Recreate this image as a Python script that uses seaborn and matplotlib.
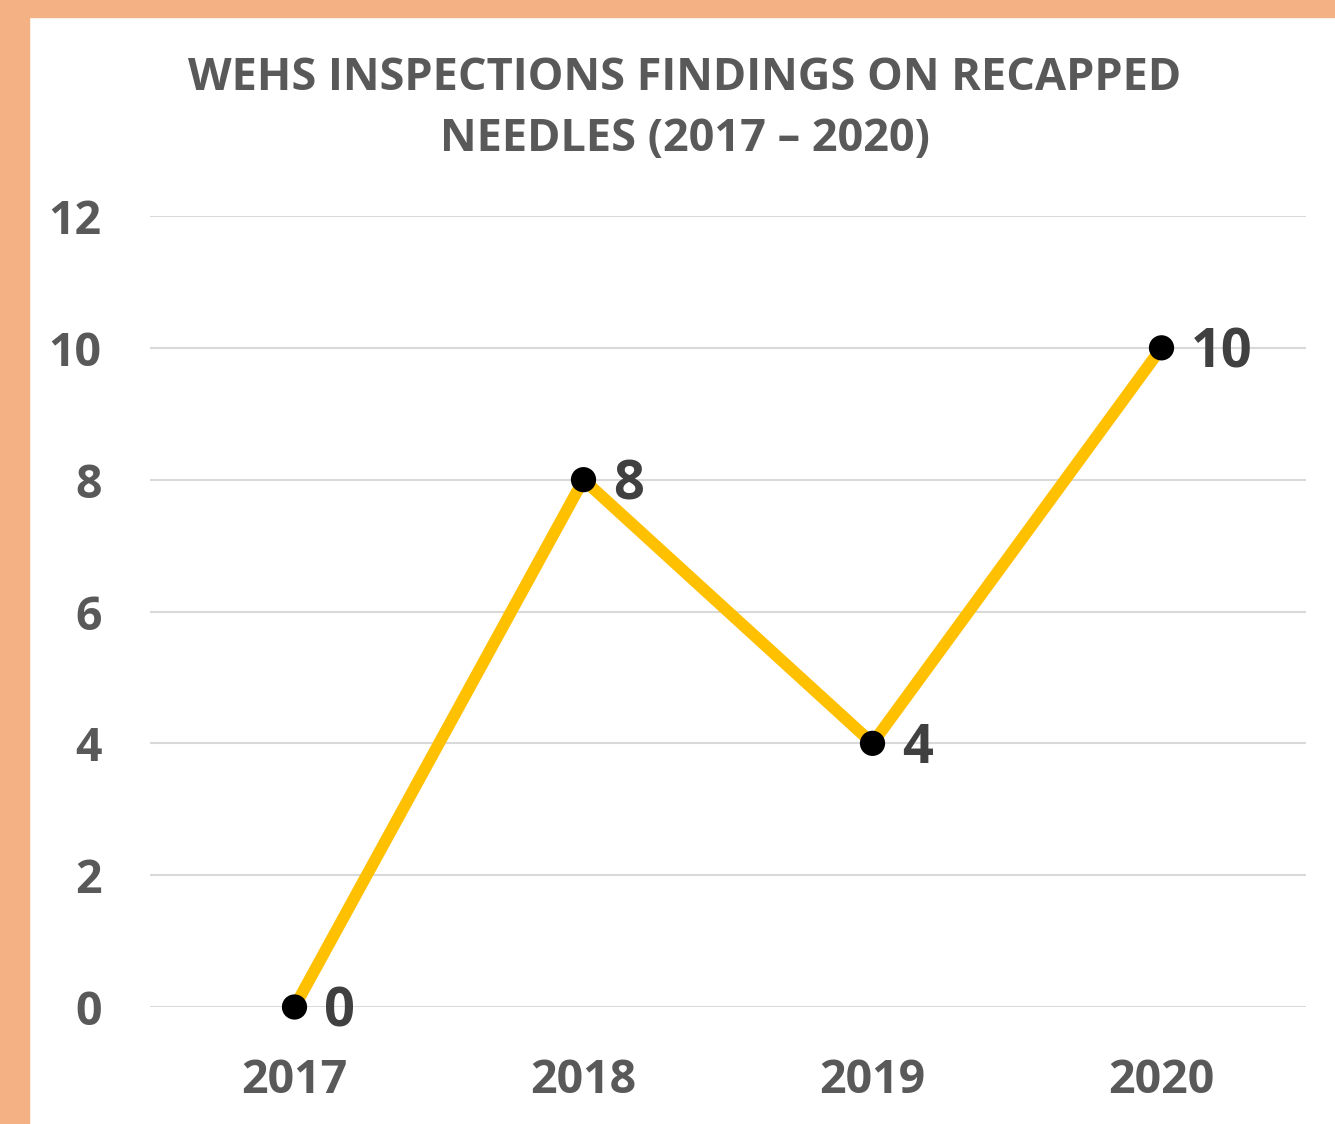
import matplotlib
matplotlib.use('Agg')
import matplotlib.pyplot as plt
import seaborn as sns
import pandas as pd
from matplotlib.patches import Rectangle

years = ['2017', '2018', '2019', '2020']
findings = [0, 8, 4, 10]
y_ticks = [0, 2, 4, 6, 8, 10, 12]
title = 'WEHS INSPECTIONS FINDINGS ON RECAPPED\nNEEDLES (2017 \u2013 2020)'

text_color = '#595959'
line_color = '#FFC000'
grid_color = '#D9D9D9'
border_color = '#F4B183'

sns.set_theme(style='white')
plt.rcParams['font.family'] = ['Open Sans', 'DejaVu Sans']
plt.rcParams['font.weight'] = 'bold'

df = pd.DataFrame({'year': years, 'findings': findings})

fig = plt.figure(figsize=(13.35, 11.24), dpi=100)
fig.patch.set_facecolor('white')
# orange frame on the left and top edge
fig.patches.append(Rectangle((0, 0), 29 / 1335, 1, transform=fig.transFigure,
                             color=border_color, zorder=0))
fig.patches.append(Rectangle((0, 1 - 17 / 1124), 1, 17 / 1124, transform=fig.transFigure,
                             color=border_color, zorder=0))

ax = fig.add_axes([150 / 1335, 117 / 1124, 1156 / 1335, 791 / 1124])
ax.set_facecolor('none')

sns.lineplot(data=df, x='year', y='findings', ax=ax, color=line_color,
             linewidth=8.5, sort=False, zorder=2, clip_on=False)
sns.scatterplot(data=df, x='year', y='findings', ax=ax, color='black',
                s=330, edgecolor='none', zorder=3, clip_on=False)

for i, v in enumerate(findings):
    ax.annotate(str(v), (i, v), xytext=(21, -4), textcoords='offset points',
                ha='left', va='center', fontsize=39, fontweight='bold',
                color='#404040', zorder=4)

ax.set_xlim(-0.5, 3.5)
ax.set_ylim(0, 12)
ax.set_yticks(y_ticks)
ax.yaxis.grid(True, color=grid_color, linewidth=1.5)
ax.set_axisbelow(True)
for s in ax.spines.values():
    s.set_visible(False)
ax.tick_params(axis='both', length=0, labelsize=33.5, labelcolor=text_color)
ax.tick_params(axis='y', pad=35)
ax.tick_params(axis='x', pad=36)
for lbl in ax.get_xticklabels() + ax.get_yticklabels():
    lbl.set_fontweight('bold')
ax.set_xlabel('')
ax.set_ylabel('')

fig.text(0.513, 1 - 109 / 1124, title, ha='center', va='center', fontsize=32.5,
         fontweight='bold', color=text_color, linespacing=1.5)

fig.savefig('out.png', dpi=100, facecolor='white')
